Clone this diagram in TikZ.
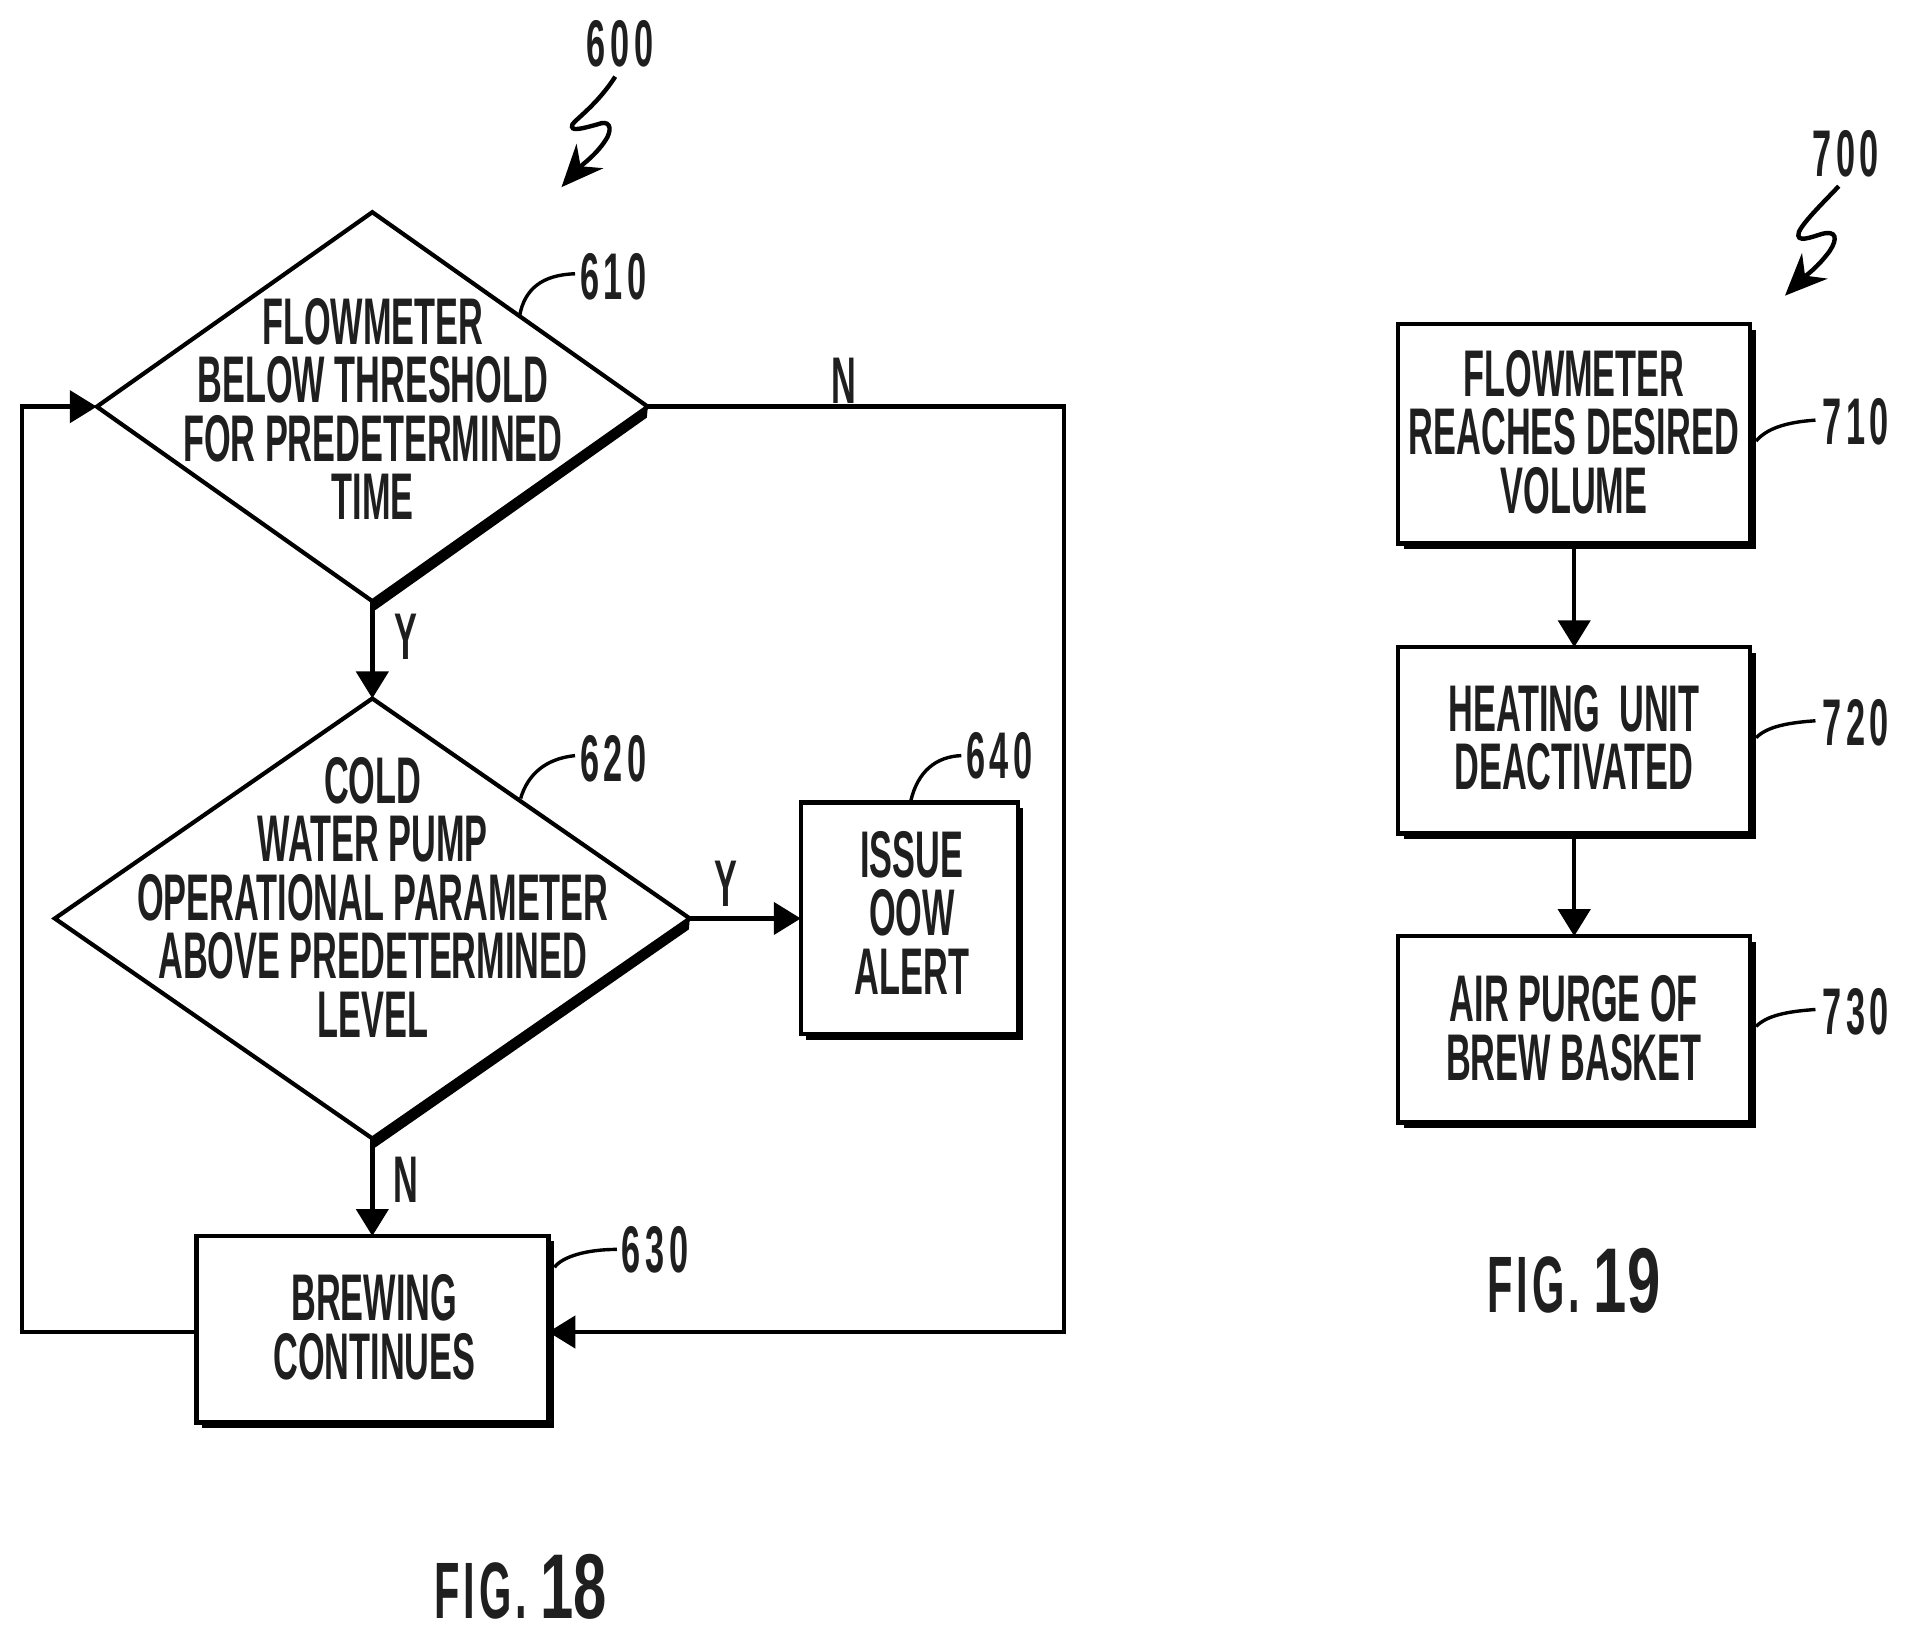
\documentclass[tikz,border=0pt]{standalone}
\usepackage{fontspec}
\setmainfont{Liberation Sans}[FakeStretch=0.52]
\newfontfamily\figdig{Liberation Sans}[FakeStretch=0.65]
\usetikzlibrary{shapes.geometric,arrows.meta,shadows,calc}
\newcommand{\rn}[3]{#1\kern2.3pt #2\kern2.3pt #3}
\tikzset{
  lbl/.style={inner sep=0pt,outer sep=0pt,align=center,text=black!88,font=\fontsize{33}{29.25}\selectfont\bfseries},
  figlbl/.style={inner sep=0pt,outer sep=0pt,text=black!88,font=\fontsize{40}{40}\selectfont\bfseries},
  dia/.style={draw=black,line width=2.1pt,shape=diamond,inner sep=0pt,outer sep=0pt,fill=white},
  boxn/.style={draw=black,line width=2.2pt,fill=white,inner sep=0pt,outer sep=0pt,
     general shadow={fill=black,shadow xshift=2.7pt,shadow yshift=-2.7pt}},
  flow/.style={line width=2.2pt,-{Triangle[length=13.5pt,width=16pt]}},
  leader/.style={line width=1.7pt},
  sq/.style={line width=2.2pt,-{Stealth[length=21pt,width=18pt]}}
}
\begin{document}
\begin{tikzpicture}[x=0.5pt,y=-0.5pt]
\useasboundingbox (0,0) rectangle (1910,1645);
\begin{scope}[x=0.49775pt,y=-0.49775pt]
% left flow
\node[dia,minimum width=275.5pt,minimum height=194.5pt] (d610) at (374,408.5) {};
\node[dia,minimum width=317.5pt,minimum height=220pt] (d620) at (374,922.6) {};
\node[boxn,minimum width=108.5pt,minimum height=115.8pt] (b640) at (913.4,922.6) {};
\node[boxn,minimum width=176pt,minimum height=93.2pt] (b630) at (374,1335.2) {};
\fill (d610.east) -- (d610.south) -- ($(d610.south)+(3,9)$) -- ($(d610.east)+(-1,11)$) -- cycle;
\fill (d620.east) -- (d620.south) -- ($(d620.south)+(3,9)$) -- ($(d620.east)+(-1,11)$) -- cycle;
\node[lbl] (t610) at (374.5,411) {FLOWMETER\\BELOW THRESHOLD\\FOR PREDETERMINED\\TIME};
\node[lbl] (t620) at (374.5,901) {COLD\\WATER PUMP\\OPERATIONAL PARAMETER\\ABOVE PREDETERMINED\\LEVEL};
\node[lbl] (t640) at (916,917) {ISSUE\\OOW\\ALERT};
\node[lbl] (t630) at (376,1333) {BREWING\\CONTINUES};
% connectors
\coordinate (rc) at (1069,1338);
\coordinate (lc) at (22,1338);
\draw[flow] (d610.south) -- (d620.north);
\draw[flow] (d620.south) -- (b630.north);
\draw[flow] (d620.east) -- (b640.west);
\draw[flow] (d610.east) -- (d610.east -| rc) -- (rc) -- (b630.east |- rc);
\draw[flow] (b630.west |- lc) -- (lc) -- (lc |- d610.west) -- (d610.west);
\node[lbl] (yl1) at (408,640) {Y};
\node[lbl] (nl1) at (848,383) {N};
\node[lbl] (yl2) at (729,888) {Y};
\node[lbl] (nl2) at (408,1185) {N};
% references
\node[lbl] (r600) at (623,44) {\rn 600};
\node[lbl] (r610) at (616,278) {\rn 610};
\node[lbl] (r620) at (616,762) {\rn 620};
\node[lbl] (r640) at (1004,759) {\rn 640};
\node[lbl] (r630) at (658,1255) {\rn 630};
\node[lbl] (r700) at (1854,154) {\rn 700};
\node[lbl] (r710) at (1864,424) {\rn 710};
\node[lbl] (r720) at (1864,726) {\rn 720};
\node[lbl] (r730) at (1864,1016) {\rn 730};
% squiggles
\coordinate (s6a) at (618,77);
\coordinate (s6b) at (564,188);
\draw[sq] (s6a) .. controls (600,105) and (578,120) .. (575,125) .. controls (572,133) and (585,129) .. (600,125) .. controls (612,120) and (615,128) .. (610,138) .. controls (600,155) and (585,165) .. (s6b);
\coordinate (s7a) at (1847,187);
\coordinate (s7b) at (1793,297);
\draw[sq] (s7a) .. controls (1835,200) and (1812,222) .. (1807,233) .. controls (1803,245) and (1820,238) .. (1830,235) .. controls (1845,231) and (1846,240) .. (1838,252) .. controls (1825,270) and (1810,280) .. (s7b);
% leaders
\coordinate (l610) at (522,317);
\coordinate (l620) at (523,802);
\coordinate (l640) at (915,804);
\coordinate (l630) at (557,1273);
\coordinate (l710) at (1764,443);
\coordinate (l720) at (1764,741);
\coordinate (l730) at (1764,1031);
\draw[leader] (l610) .. controls (527,290) and (545,276) .. ($(r610.west)+(-5,-3)$);
\draw[leader] (l620) .. controls (530,778) and (548,762) .. ($(r620.west)+(-5,-3)$);
\draw[leader] (l640) .. controls (922,775) and (940,760) .. ($(r640.west)+(-5,0)$);
\draw[leader] (l630) .. controls (565,1262) and (590,1255) .. ($(r630.west)+(-5,0)$);
\draw[leader] (l710) .. controls (1775,430) and (1795,424) .. ($(r710.west)+(-7,-2)$);
\draw[leader] (l720) .. controls (1775,730) and (1795,726) .. ($(r720.west)+(-7,-2)$);
\draw[leader] (l730) .. controls (1775,1020) and (1795,1016) .. ($(r730.west)+(-7,-2)$);
% right flow
\node[boxn,minimum width=176pt,minimum height=109.7pt] (b710) at (1581.3,435.9) {};
\node[boxn,minimum width=176pt,minimum height=93.2pt] (b720) at (1581.3,743.8) {};
\node[boxn,minimum width=176pt,minimum height=93.2pt] (b730) at (1581.3,1034) {};
\node[lbl] (t710) at (1581,434) {FLOWMETER\\REACHES DESIRED\\VOLUME};
\node[lbl] (t720) at (1581,741) {HEATING\ \ UNIT\\DEACTIVATED};
\node[lbl] (t730) at (1581,1033) {AIR\ PURGE\ OF\\BREW BASKET};
\draw[flow] ($(b710.south)+(0,5)$) -- (b720.north);
\draw[flow] ($(b720.south)+(0,5)$) -- (b730.north);
% figure titles
\node[figlbl] (fig18) at (523,1594) {F\kern2pt I\kern2pt G\kern2pt .\,{\figdig\fontsize{46}{46}\selectfont 18}};
\node[figlbl] (fig19) at (1581,1287) {F\kern2pt I\kern2pt G\kern2pt .\,{\figdig\fontsize{46}{46}\selectfont 19}};
\end{scope}
\end{tikzpicture}
\end{document}
